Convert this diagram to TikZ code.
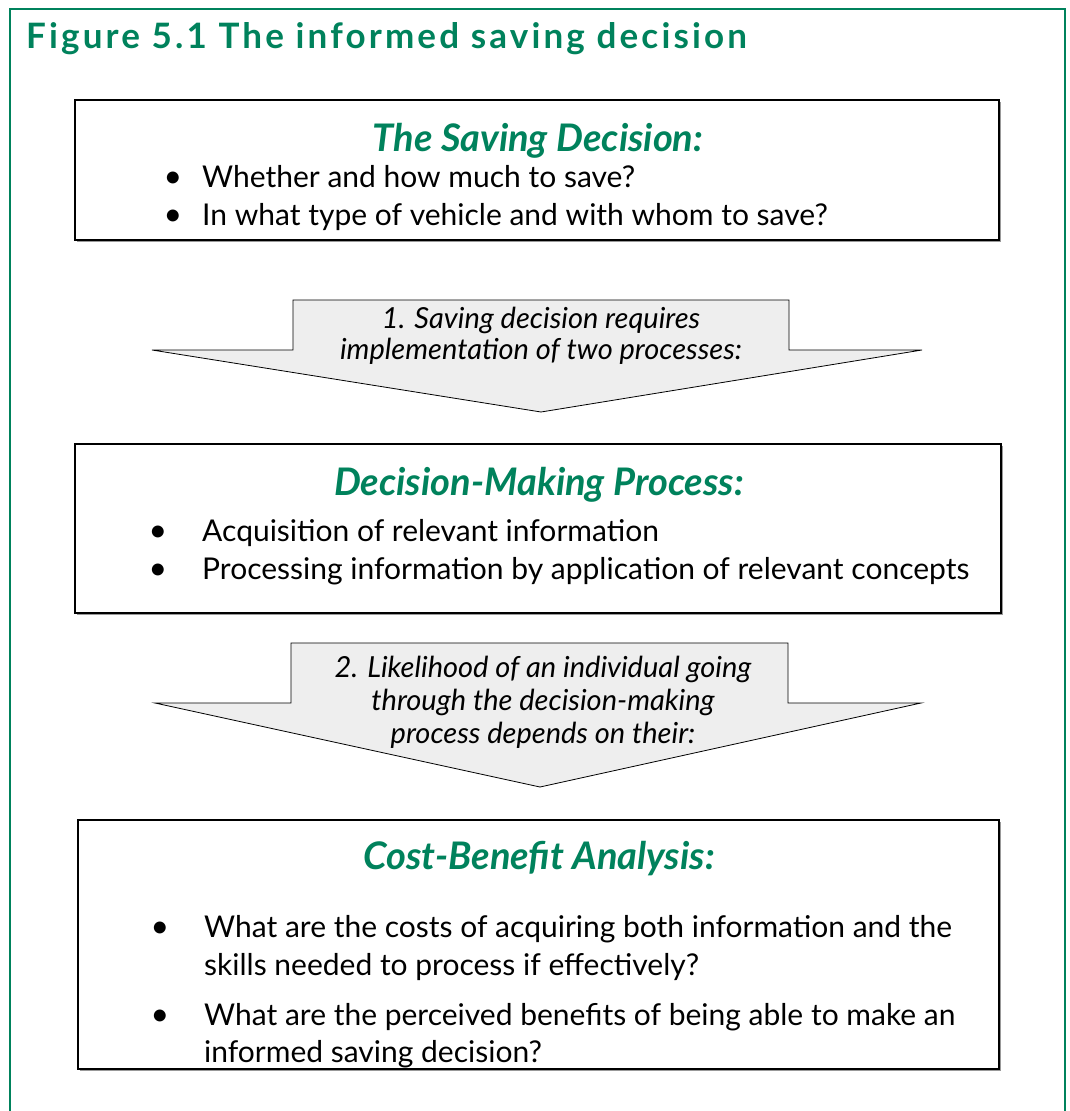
\documentclass[tikz,border=0pt]{standalone}
\usepackage{fontspec}
\setmainfont{Lato}
\usetikzlibrary{calc,shadows}

\definecolor{figgreen}{RGB}{0,130,92}
\definecolor{arrowgray}{RGB}{238,238,238}

\tikzset{
  panel/.style={draw=black, line width=1.2pt, fill=white,
    drop shadow={shadow xshift=1.6pt, shadow yshift=-1.6pt, fill=black!40, opacity=1}},
  bigarrow/.style={draw=black, line width=0.8pt, fill=arrowgray},
  heading/.style={anchor=base, inner sep=0pt, text=figgreen,
    font=\fontsize{38}{44}\selectfont\bfseries\itshape},
  item/.style={anchor=base west, inner sep=0pt, font=\fontsize{30}{36}\selectfont},
  dot/.style={anchor=base, inner sep=0pt, font=\fontsize{32}{36}\selectfont},
  note/.style={anchor=base, inner sep=0pt, font=\fontsize{29}{34}\selectfont\itshape}
}

\begin{document}
\begin{tikzpicture}[x=1pt,y=-1pt]
  \useasboundingbox (0,0) rectangle (1069,1111);
  % green frame, open at the bottom
  \draw[figgreen, line width=2.6pt] (10,1111) -- (10,9) -- (1065,9) -- (1065,1111);
  \node[anchor=base west, inner sep=0pt, text=figgreen,
        font=\fontsize{35}{40}\selectfont\bfseries\addfontfeature{LetterSpace=9}]
        (title) at (26,48) {Figure 5.1 The informed saving decision};

  % the three panels
  \coordinate (S1) at (75,100);  \coordinate (T1) at (999,240);
  \coordinate (S2) at (75,444);  \coordinate (T2) at (1001,613);
  \coordinate (S3) at (78,820);  \coordinate (T3) at (999,1069);
  \foreach \i in {1,2,3}
    \draw[panel] (S\i) rectangle (T\i);

  % panel 1
  \node[heading] (h1) at (538,151) {The Saving Decision:};
  \foreach \n/\y/\txt in {1/187/Whether and how much to save?,
                          2/225/In what type of vehicle and with whom to save?}{
    \node[dot] (d1\n) at (173,\y) {\textbullet};
    \node[item] (i1\n) at (202,\y) {\txt};
  }

  % arrow 1
  \coordinate (A1) at (293,300); \coordinate (B1) at (789,300);
  \coordinate (C1) at (789,350); \coordinate (D1) at (922,350);
  \coordinate (E1) at (541,412); \coordinate (F1) at (152,350);
  \coordinate (G1) at (293,350);
  \draw[bigarrow] (A1)--(B1)--(C1)--(D1)--(E1)--(F1)--(G1)--cycle;
  \node[note] (n11) at (541,328) {1. Saving decision requires};
  \node[note] (n12) at (541,359) {implementation of two processes:};

  % panel 2
  \node[heading] (h2) at (539,495) {Decision-Making Process:};
  \foreach \n/\y/\txt in {1/541/Acquisition of relevant information,
                          2/579/Processing information by application of relevant concepts}{
    \node[dot] (d2\n) at (158,\y) {\textbullet};
    \node[item] (i2\n) at (202,\y) {\txt};
  }

  % arrow 2
  \coordinate (A2) at (291,643); \coordinate (B2) at (788,643);
  \coordinate (C2) at (788,703); \coordinate (D2) at (921,703);
  \coordinate (E2) at (540,787); \coordinate (F2) at (155,703);
  \coordinate (G2) at (291,703);
  \draw[bigarrow] (A2)--(B2)--(C2)--(D2)--(E2)--(F2)--(G2)--cycle;
  \node[note] (n21) at (543,677) {2. Likelihood of an individual going};
  \node[note] (n22) at (543,710) {through the decision-making};
  \node[note] (n23) at (543,743) {process depends on their:};

  % panel 3
  \node[heading] (h3) at (539,869) {Cost-Benefit Analysis:};
  \node[dot] (d31) at (160,937) {\textbullet};
  \node[item] (i31) at (204,937) {What are the costs of acquiring both information and the};
  \node[item] (i32) at (204,975) {skills needed to process if effectively?};
  \node[dot] (d32) at (160,1025) {\textbullet};
  \node[item] (i33) at (204,1025) {What are the perceived benefits of being able to make an};
  \node[item] (i34) at (204,1062) {informed saving decision?};
\end{tikzpicture}
\end{document}
